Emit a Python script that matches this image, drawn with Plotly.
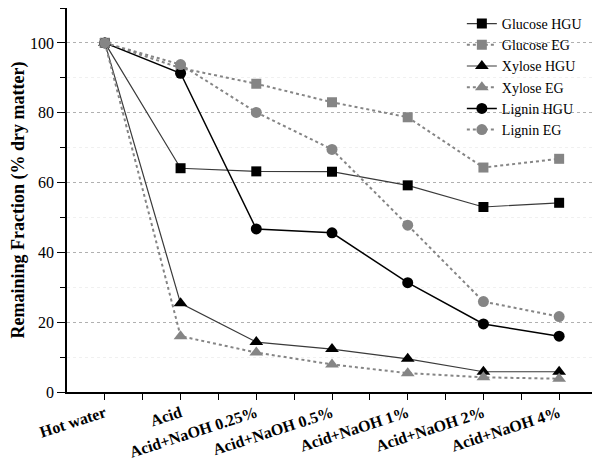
import plotly.graph_objects as go

categories = ["Hot water", "Acid", "Acid+NaOH 0.25%", "Acid+NaOH 0.5%",
              "Acid+NaOH 1%", "Acid+NaOH 2%", "Acid+NaOH 4%"]
glucose_hgu = [100, 64.1, 63.2, 63.1, 59.2, 53.0, 54.2]
glucose_eg = [100, 92.8, 88.3, 83.0, 78.7, 64.3, 66.8]
xylose_hgu = [100, 25.4, 14.3, 12.3, 9.5, 5.8, 5.8]
xylose_eg = [100, 16.0, 11.3, 7.9, 5.4, 4.2, 3.8]
lignin_hgu = [100, 91.3, 46.7, 45.6, 31.3, 19.5, 16.0]
lignin_eg = [100, 93.8, 80.1, 69.5, 47.8, 25.9, 21.6]

x = list(range(len(categories)))
GRAY = "#858585"
FONT = "Liberation Serif"

series = [
    ("Glucose HGU", glucose_hgu, "square", "black", dict(color="#3a3a3a", width=1.2), 10),
    ("Glucose EG", glucose_eg, "square", GRAY, dict(color=GRAY, width=2, dash="dot"), 10),
    ("Xylose HGU", xylose_hgu, "triangle-up", "black", dict(color="#3a3a3a", width=1.2), 12),
    ("Xylose EG", xylose_eg, "triangle-up", GRAY, dict(color=GRAY, width=2, dash="dot"), 12),
    ("Lignin HGU", lignin_hgu, "circle", "black", dict(color="black", width=1.5), 11),
    ("Lignin EG", lignin_eg, "circle", GRAY, dict(color=GRAY, width=2, dash="dot"), 11),
]

fig = go.Figure()
for name, vals, sym, mcol, line, size in series:
    fig.add_trace(go.Scatter(
        x=x, y=vals, name=name, mode="lines+markers",
        line=line, marker=dict(symbol=sym, color=mcol, size=size, line=dict(width=0)),
    ))

fig.update_layout(
    width=592, height=460,
    margin=dict(l=59, r=3, t=0, b=76),
    paper_bgcolor="white", plot_bgcolor="white",
    font=dict(family=FONT, color="black", size=15),
    legend=dict(x=0.745, y=1.0, xanchor="left", yanchor="top",
                bgcolor="rgba(0,0,0,0)", font=dict(size=14, family=FONT),
                tracegroupgap=0),
    showlegend=True,
)
fig.update_xaxes(
    range=[-0.5, 6.5], tickmode="array", tickvals=x, ticktext=categories,
    tickangle=-18, tickfont=dict(size=16, family=FONT, weight="bold"),
    ticks="outside", ticklen=6, tickwidth=1.2, tickcolor="black",
    showline=True, linecolor="black", linewidth=1.5, mirror=True,
    showgrid=False, zeroline=False, automargin=False, ticklabelstandoff=-2,
    minor=dict(tickvals=[i + 0.5 for i in x[:-1]], ticks="outside", ticklen=6,
               tickcolor="black", tickwidth=1.2, showgrid=False),
)
fig.update_yaxes(
    range=[0, 110], tickvals=[0, 20, 40, 60, 80, 100],
    tickfont=dict(size=16, family=FONT),
    ticks="outside", ticklen=8, tickwidth=1.2, tickcolor="black",
    showline=True, linecolor="black", linewidth=1.5, mirror=True,
    showgrid=True, gridcolor="#b0b0b0", griddash="dot", gridwidth=1,
    zeroline=False, automargin=False,
    title=dict(text="<b>Remaining Fraction (% dry matter)</b>",
               font=dict(size=18, family=FONT), standoff=6),
    minor=dict(dtick=10, tick0=0, ticks="outside", ticklen=5, tickcolor="black",
               tickwidth=1.2, showgrid=True, gridcolor="#f0f0f0", gridwidth=1),
)

fig.write_html("out.html")
